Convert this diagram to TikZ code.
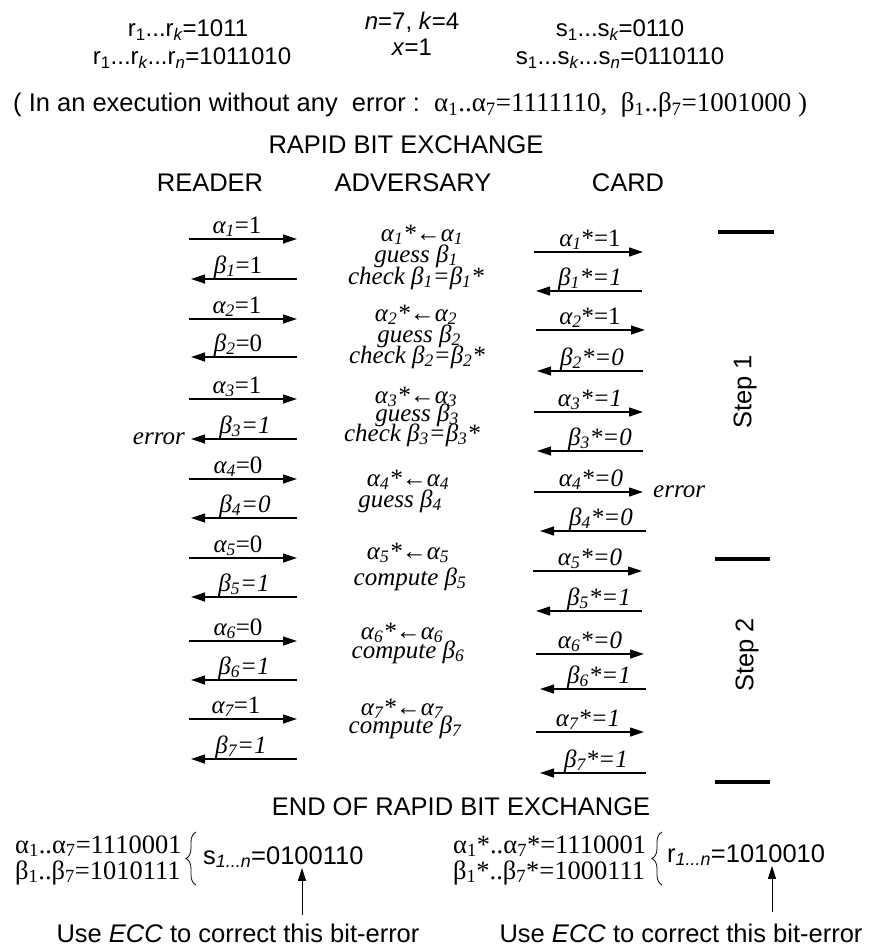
\documentclass[tikz,border=0pt]{standalone}
\usepackage{fontspec}
\setmainfont{Liberation Serif}
\setsansfont{Liberation Sans}
\usetikzlibrary{arrows.meta,decorations.pathreplacing}

% Greek symbols with italic subscripts
\newcommand\gA[1]{\textit{α\textsubscript{#1}}}
\newcommand\gB[1]{\textit{β\textsubscript{#1}}}
\newcommand\la{{\upshape ←}}

\begin{document}
\begin{tikzpicture}[x=1pt,y=-1pt,
  msg/.style={line width=1.2pt,-{Triangle[length=14pt,width=9pt]}},
  uparrow/.style={line width=1pt,-{Triangle[length=13pt,width=8pt]}},
  lbl/.style={anchor=base,inner sep=0pt,font=\fontsize{25}{28}\selectfont},
  adv/.style={anchor=base,inner sep=0pt,font=\fontsize{25}{28}\selectfont\itshape},
  serif/.style={anchor=base west,inner sep=0pt,font=\fontsize{26.5}{29}\selectfont},
  sans/.style={inner sep=0pt,font=\sffamily\fontsize{25.5}{28}\selectfont},
  param/.style={inner sep=0pt,font=\sffamily\fontsize{24}{27}\selectfont},
  bar/.style={line width=4pt},
  curly/.style={decorate,decoration={brace,amplitude=10pt},line width=0.8pt}]

\useasboundingbox (0,0) rectangle (868,952);

% parameters of the run
\node[param] (rk) at (188,30) {r\textsubscript{1}...r\textsubscript{\itshape k}=1011};
\node[param] (rn) at (192,58) {r\textsubscript{1}...r\textsubscript{\itshape k}...r\textsubscript{\itshape n}=1011010};
\node[param] (nk) at (412,22) {\textit{n}=7, \textit{k}=4};
\node[param] (xv) at (412,47) {\textit{x}=1};
\node[param] (sk) at (620,30) {s\textsubscript{1}...s\textsubscript{\itshape k}=0110};
\node[param] (sn) at (620,58) {s\textsubscript{1}...s\textsubscript{\itshape k}...s\textsubscript{\itshape n}=0110110};

\node[sans,anchor=west] (ref) at (13,105) {( In an execution without any\ \ error :\ \ {\rmfamily\fontsize{27}{30}\selectfont α\textsubscript{1}..α\textsubscript{7}=1111110,\ \ β\textsubscript{1}..β\textsubscript{7}=1001000 )}};

\node[sans] (title) at (406,145) {RAPID BIT EXCHANGE};
\node[sans] (reader) at (210,183) {READER};
\node[sans] (adversary) at (413,183) {ADVERSARY};
\node[sans] (card) at (628,183) {CARD};

% reader <-> adversary
\foreach \n/\xa/\xb/\y/\lx/\lab in {
  ra1/189/297/239/237/{\gA{1}=1},
  rb1/297/191/279/238/{\gB{1}=1},
  ra2/189/297/319/237/{\gA{2}=1},
  rb2/297/191/357/238/{\gB{2}=0},
  ra3/189/297/399/237/{\gA{3}=1},
  rb3/297/191/439/245/{\textit{β\textsubscript{3}=1}},
  ra4/189/297/479/238/{\gA{4}=0},
  rb4/297/191/518/245/{\textit{β\textsubscript{4}=0}},
  ra5/189/297/558/238/{\gA{5}=0},
  rb5/297/191/597/244/{\textit{β\textsubscript{5}=1}},
  ra6/189/297/641/238/{\gA{6}=0},
  rb6/297/191/680/244/{\textit{β\textsubscript{6}=1}},
  ra7/189/297/719/236/{\gA{7}=1},
  rb7/297/191/759/241/{\textit{β\textsubscript{7}=1}}}{
  \coordinate (\n-s) at (\xa,\y);
  \coordinate (\n-e) at (\xb,\y);
  \draw[msg] (\n-s) -- (\n-e);
  \node[lbl] (\n-t) at (\lx,\y-6) {\lab};
}

% adversary <-> card
\foreach \n/\xa/\xb/\y/\lx/\lab in {
  ca1/534/643/252/590/{\gA{1}*=1},
  cb1/642/536/291/590/{\textit{β\textsubscript{1}*=1}},
  ca2/536/645/330/590/{\gA{2}*=1},
  cb2/643/537/371/592/{\textit{β\textsubscript{2}*=0}},
  ca3/534/643/412/590/{\textit{α\textsubscript{3}*=1}},
  cb3/643/537/451/600/{\textit{β\textsubscript{3}*=0}},
  ca4/534/643/492/591/{\textit{α\textsubscript{4}*=0}},
  cb4/646/540/531/601/{\textit{β\textsubscript{4}*=0}},
  ca5/533/642/571/590/{\textit{α\textsubscript{5}*=0}},
  cb5/642/536/611/599/{\textit{β\textsubscript{5}*=1}},
  ca6/536/644/654/590/{\textit{α\textsubscript{6}*=0}},
  cb6/646/540/689/599/{\textit{β\textsubscript{6}*=1}},
  ca7/536/644/732/588/{\textit{α\textsubscript{7}*=1}},
  cb7/646/540/773/596/{\textit{β\textsubscript{7}*=1}}}{
  \coordinate (\n-s) at (\xa,\y);
  \coordinate (\n-e) at (\xb,\y);
  \draw[msg] (\n-s) -- (\n-e);
  \node[lbl] (\n-t) at (\lx,\y-6) {\lab};
}

% error marks
\node[adv,anchor=base east] (err1) at (185,444) {error};
\node[adv,anchor=base west] (err2) at (653,497) {error};

% what the adversary does
\foreach \n/\x/\y/\txt in {
  a1/422/241/{α\textsubscript{1}*\la α\textsubscript{1}},
  g1/416/262/{guess β\textsubscript{1}},
  k1/416/284/{check β\textsubscript{1}=β\textsubscript{1}*},
  a2/416/321/{α\textsubscript{2}*\la α\textsubscript{2}},
  g2/419/342/{guess β\textsubscript{2}},
  k2/417/363/{check β\textsubscript{2}=β\textsubscript{2}*},
  a3/416/403/{α\textsubscript{3}*\la α\textsubscript{3}},
  g3/417/421/{guess β\textsubscript{3}},
  k3/412/441/{check β\textsubscript{3}=β\textsubscript{3}*},
  a4/408/486/{α\textsubscript{4}*\la α\textsubscript{4}},
  g4/400/507/{guess β\textsubscript{4}},
  a5/408/559/{α\textsubscript{5}*\la α\textsubscript{5}},
  c5/410/585/{compute β\textsubscript{5}},
  a6/402/639/{α\textsubscript{6}*\la α\textsubscript{6}},
  c6/408/658/{compute β\textsubscript{6}},
  a7/402/715/{α\textsubscript{7}*\la α\textsubscript{7}},
  c7/405/733/{compute β\textsubscript{7}}}{
  \node[adv] (adv-\n) at (\x,\y) {\txt};
}

% step markers
\coordinate (b1l) at (718,232); \coordinate (b1r) at (774,232);
\coordinate (b2l) at (715,559); \coordinate (b2r) at (770,559);
\coordinate (b3l) at (715,782); \coordinate (b3r) at (770,782);
\draw[bar] (b1l) -- (b1r);
\draw[bar] (b2l) -- (b2r);
\draw[bar] (b3l) -- (b3r);
\node[sans,rotate=90] (step1) at (745,392) {Step 1};
\node[sans,rotate=90] (step2) at (747,655) {Step 2};

% after the exchange
\node[sans] (endx) at (461,807) {END OF RAPID BIT EXCHANGE};

\node[serif] (ra) at (15,853) {α\textsubscript{1}..α\textsubscript{7}=1110001};
\node[serif] (rb) at (15,879) {β\textsubscript{1}..β\textsubscript{7}=1010111};
\coordinate (brL1) at (196,885); \coordinate (brL2) at (196,832);
\draw[curly] (brL1) -- (brL2);
\node[sans,anchor=base west] (sres) at (203,864) {s\textsubscript{\itshape 1...n}=0100110};

\node[serif] (ca) at (453,853) {α\textsubscript{1}*..α\textsubscript{7}*=1110001};
\node[serif] (cb) at (453,879) {β\textsubscript{1}*..β\textsubscript{7}*=1000111};
\coordinate (brR1) at (662,885); \coordinate (brR2) at (662,832);
\draw[curly] (brR1) -- (brR2);
\node[sans,anchor=base west] (rres) at (667,862) {r\textsubscript{\itshape 1...n}=1010010};

\coordinate (upL) at (302,915);
\coordinate (upR) at (772,912);
\draw[uparrow] (upL) -- (sres.south -| upL);
\draw[uparrow] (upR) -- (rres.south -| upR);

\node[sans] (eccL) at (238,933) {Use \textit{ECC} to correct this bit-error};
\node[sans] (eccR) at (681,933) {Use \textit{ECC} to correct this bit-error};

\end{tikzpicture}
\end{document}
